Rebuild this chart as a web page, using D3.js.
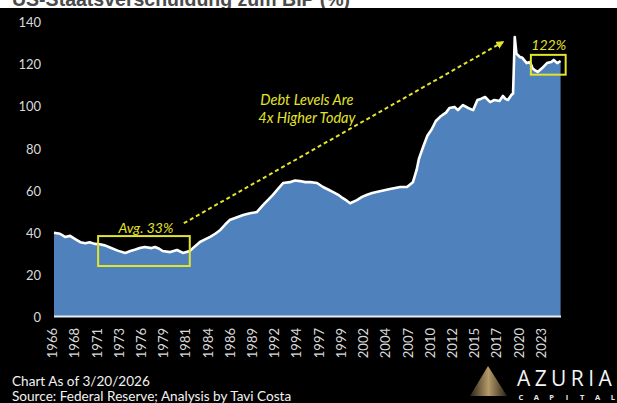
<!DOCTYPE html>
<html><head><meta charset="utf-8">
<script src="https://cdn.jsdelivr.net/npm/d3@7"></script>
<style>
html,body{margin:0;padding:0;background:#000;}
svg{display:block;}
</style></head>
<body>
<svg id="chart" width="617" height="403"></svg>
<script>
// ---- data (federal debt as % of GDP) ----
const years = [1966.0,1966.7,1967.3,1967.9,1968.5,1969.1,1969.7,1970.2,1970.8,1971.4,1972.0,1972.6,1973.5,1974.4,1975.0,1975.6,1976.1,1976.7,1977.5,1977.9,1978.4,1978.8,1979.7,1980.5,1981.2,1982.0,1982.6,1983.2,1983.8,1984.4,1985.0,1985.6,1986.2,1986.7,1987.5,1988.3,1989.1,1989.9,1990.6,1991.2,1991.8,1992.4,1993.0,1993.8,1994.4,1995.0,1995.6,1996.2,1997.0,1997.7,1998.3,1998.9,1999.5,2000.0,2000.5,2000.9,2001.7,2002.3,2002.9,2003.5,2004.0,2004.8,2005.6,2006.2,2006.8,2007.6,2008.3,2008.75,2009.0,2009.5,2010.0,2010.5,2011.0,2011.5,2011.8,2012.2,2012.6,2013.2,2013.6,2013.9,2014.2,2014.8,2015.4,2015.9,2016.3,2016.8,2017.4,2017.9,2018.5,2018.9,2019.2,2019.5,2019.9,2020.1,2020.3,2020.5,2020.9,2021.2,2021.7,2022.1,2022.4,2022.7,2023.0,2023.5,2024.1,2024.6,2024.9,2025.3,2025.7];
const debtPct = [40.0,39.5,38.0,38.5,37.0,35.5,35.0,35.5,34.7,34.5,34.0,33.0,31.5,30.4,31.3,32.0,32.7,33.2,32.7,33.2,32.4,31.3,30.8,31.8,30.4,31.3,33.5,35.6,36.8,38.0,39.5,41.3,44.0,46.0,47.2,48.4,49.2,49.8,53.0,55.5,58.0,60.8,63.6,64.0,64.8,64.5,64.0,64.0,63.6,61.7,60.5,59.3,58.0,56.5,55.2,54.0,55.5,57.0,58.0,58.8,59.3,60.0,60.7,61.2,61.7,61.7,64.0,70.0,75.0,80.7,86.0,89.0,93.0,95.0,95.9,97.0,99.2,99.7,98.2,99.5,100.6,99.2,98.2,103.0,103.5,104.4,102.0,103.0,102.5,104.9,103.5,103.0,105.4,106.0,132.9,125.0,123.4,123.0,120.5,121.0,118.0,117.0,116.3,118.0,120.5,121.0,122.0,120.5,121.5];
const yTicks = [0,20,40,60,80,100,120,140];
const xTickLabels = ["1966","1968","1971","1973","1976","1979","1981","1984","1986","1989","1992","1994","1997","1999","2002","2004","2007","2010","2012","2015","2017","2020","2023"];
const titleText = "US-Staatsverschuldung zum BIP (%)";
const avgLabel = "Avg. 33%";
const lastLabel = "122%";
const calloutLines = ["Debt Levels Are","4x Higher Today"];
const footerLines = ["Chart As of 3/20/2026","Source: Federal Reserve; Analysis by Tavi Costa"];

// ---- drawing ----
const svg = d3.select("#chart");
const W = 617, H = 403;
const FONT = "Lato, 'Open Sans', 'Liberation Sans', sans-serif";
const YEL = "#e4e42a";

// white strip with cut-off title, then black panel
svg.append("rect").attr("x",0).attr("y",0).attr("width",W).attr("height",H).attr("fill","#fff");
svg.append("text").attr("x",12).attr("y",6).text(titleText)
  .attr("font-family","'Liberation Sans', Arial, sans-serif").attr("font-weight","bold")
  .attr("font-size",21).attr("fill","#4a4a4a")
  .attr("textLength",338).attr("lengthAdjust","spacingAndGlyphs");
svg.append("rect").attr("x",0).attr("y",8).attr("width",W).attr("height",H-8).attr("fill","#000");

const x = d3.scaleLinear().domain([1966, 2025.75]).range([54, 561]);
const y = d3.scaleLinear().domain([0, 140]).range([317, 22]);

const data = years.map((t,i)=>({t, v: debtPct[i]}));

// area
svg.append("path").datum(data)
  .attr("d", d3.area().x(d=>x(d.t)).y0(y(0)).y1(d=>y(d.v)))
  .attr("fill","#4f81bd");
// white line on top
svg.append("path").datum(data)
  .attr("d", d3.line().x(d=>x(d.t)).y(d=>y(d.v)))
  .attr("fill","none").attr("stroke","#fff").attr("stroke-width",2.6).attr("stroke-linejoin","round");

// x baseline
svg.append("line").attr("x1",x(1966)).attr("x2",x(2025.75)).attr("y1",y(0)-0.5).attr("y2",y(0)-0.5)
  .attr("stroke","#e8eef6").attr("stroke-width",2);

// y axis labels
const yAxis = d3.axisLeft(y).tickValues(yTicks).tickSize(0).tickPadding(0);
const gy = svg.append("g").attr("transform","translate(41,0)").call(yAxis);
gy.select(".domain").remove();
gy.selectAll("text").attr("font-family",FONT).attr("font-size",13).attr("fill","#d9d9d9").attr("dy","0.36em");

// x axis labels (evenly spaced, as in the source chart)
const step = (2023.35 - 1965.76) / (xTickLabels.length - 1);
const tickPos = xTickLabels.map((d,i)=>1965.76 + i*step);
const xAxis = d3.axisBottom(x).tickValues(tickPos).tickSize(0).tickFormat((d,i)=>xTickLabels[i]);
const gx = svg.append("g").attr("transform",`translate(0,${y(0)})`).call(xAxis);
gx.select(".domain").remove();
gx.selectAll("text")
  .attr("font-family",FONT).attr("font-size",13).attr("fill","#d9d9d9")
  .attr("transform","rotate(-90)").attr("text-anchor","end")
  .attr("x",-11).attr("y",0).attr("dy","0.36em");

// avg box
svg.append("rect").attr("x",x(1971.2)).attr("y",y(38.4))
  .attr("width",x(1982.0)-x(1971.2)).attr("height",y(24.2)-y(38.4))
  .attr("fill","none").attr("stroke",YEL).attr("stroke-width",2);
svg.append("text").attr("x",x(1973.6)).attr("y",y(41.6)+4).text(avgLabel)
  .attr("font-family",FONT).attr("font-style","italic").attr("font-size",14).attr("fill",YEL);

// dashed arrow
const defs = svg.append("defs");
defs.append("marker").attr("id","ah").attr("viewBox","0 0 10 10").attr("refX",8).attr("refY",5)
  .attr("markerWidth",4).attr("markerHeight",4).attr("orient","auto")
  .append("path").attr("d","M0,0L10,5L0,10z").attr("fill",YEL);
svg.append("line").attr("x1",x(1981.3)).attr("y1",y(44.5)).attr("x2",x(2018.9)).attr("y2",y(130.5))
  .attr("stroke",YEL).attr("stroke-width",2).attr("stroke-dasharray","4,3").attr("marker-end","url(#ah)");

// callout text
calloutLines.forEach((s,i)=>{
  svg.append("text").attr("x",x(1995.8)).attr("y",y(100.5)+i*18).text(s)
    .attr("text-anchor","middle").attr("font-family",FONT).attr("font-style","italic")
    .attr("font-size",14.5).attr("fill",YEL);
});

// last box
svg.append("rect").attr("x",x(2022.2)).attr("y",y(124.4))
  .attr("width",x(2026.3)-x(2022.2)).attr("height",y(115)-y(124.4))
  .attr("fill","none").attr("stroke",YEL).attr("stroke-width",2);
svg.append("text").attr("x",x(2024.3)).attr("y",y(126.6)).text(lastLabel)
  .attr("text-anchor","middle").attr("font-family",FONT).attr("font-style","italic")
  .attr("font-size",14).attr("fill",YEL);

// footer
footerLines.forEach((s,i)=>{
  svg.append("text").attr("x",12).attr("y",386 + i*15).text(s)
    .attr("font-family",FONT).attr("font-size",13.6).attr("fill","#f2f2f2");
});

// logo
const grad = defs.append("linearGradient").attr("id","lg").attr("x1","0").attr("x2","1").attr("y1","0").attr("y2","0");
grad.append("stop").attr("offset","0%").attr("stop-color","#2a2216");
grad.append("stop").attr("offset","50%").attr("stop-color","#b59a6a");
grad.append("stop").attr("offset","100%").attr("stop-color","#2a2216");
svg.append("path").attr("d","M488,366 L470,396 L507,396 Z").attr("fill","url(#lg)");
svg.append("text").attr("x",517).attr("y",386).text("AZURIA")
  .attr("font-family","'Open Sans', 'DejaVu Sans', sans-serif").attr("font-size",21)
  .attr("fill","#f4f4f4").attr("letter-spacing",4.4);
const cap = "CAPITAL".split("");
cap.forEach((c,i)=>{
  svg.append("text").attr("x",521 + i*15.3).attr("y",399.5).text(c)
    .attr("text-anchor","middle")
    .attr("font-family","'Open Sans', 'DejaVu Sans', sans-serif").attr("font-size",7.5).attr("font-weight","bold")
    .attr("fill","#e8e8e8");
});
</script>
</body></html>
